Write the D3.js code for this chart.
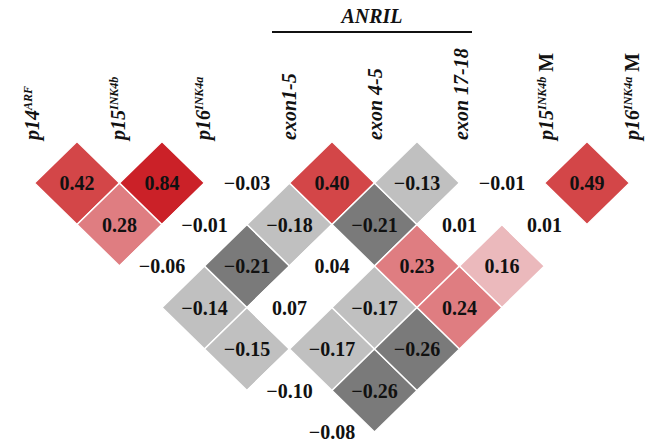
<!DOCTYPE html>
<html>

<head>
    <meta charset="utf-8">
    <title>ANRIL correlation</title>
    <script type="text/javascript" src="https://cdn.jsdelivr.net/npm/d3@7"></script>
    <style>
        body { margin: 0; background: #fff; }
        text { font-family: "Liberation Serif", "Times New Roman", serif; font-weight: bold; fill: #111; }
    </style>
</head>

<body>
    <script type="text/javascript">
    /* データ */
    var labelMain = ['p14', 'p15', 'p16', 'exon1-5', 'exon 4-5', 'exon 17-18', 'p15', 'p16'];
    var labelSup = ['ARF', 'INK4b', 'INK4a', '', '', '', 'INK4b', 'INK4a'];
    var labelTail = ['', '', '', '', '', '', ' M', ' M'];

    // 上三角の相関係数 (変数 i と i+1 .. 8)
    var corrP14 = [0.42, 0.28, -0.06, -0.14, -0.15, -0.10, -0.08];
    var corrP15 = [0.84, -0.01, -0.21, 0.07, -0.17, -0.26];
    var corrP16 = [-0.03, -0.18, 0.04, -0.17, -0.26];
    var corrExon15 = [0.40, -0.21, 0.23, 0.24];
    var corrExon45 = [-0.13, 0.01, 0.16];
    var corrExon1718 = [-0.01, 0.01];
    var corrP15M = [0.49];

    var corrRows = [corrP14, corrP15, corrP16, corrExon15, corrExon45, corrExon1718, corrP15M];

    var svgWidth = 645;
    var svgHeight = 444;

    var svg = d3.select('body').append('svg')
        .attr('width', svgWidth)
        .attr('height', svgHeight);

    /* セルのデータセット */
    var cells = [];
    corrRows.forEach(function(row, i) {
        row.forEach(function(v, k) {
            cells.push({ i: i, j: i + k + 1, v: v });
        });
    });

    /* スケール */
    var xVar = d3.scaleLinear().domain([0, 7]).range([34.5, 629.5]); // 変数の位置
    var yLag = d3.scaleLinear().domain([1, 7]).range([183, 432]); // 行の位置
    var xLabel = d3.scalePoint().domain(d3.range(8)).range([33, 633]);
    var halfW = (xVar(1) - xVar(0)) / 2;
    var halfH = (yLag(2) - yLag(1));

    var color = d3.scaleThreshold()
        .domain([-0.2, -0.1, 0.1, 0.2, 0.3, 0.5])
        .range(['#7a7a7a', '#c0c0c0', '#ffffff', '#ebb9bc', '#df7d81', '#d34648', '#cb2128']);

    function cx(d) { return (xVar(d.i) + xVar(d.j)) / 2; }
    function cy(d) { return yLag(d.j - d.i); }

    /* ダイヤモンド */
    svg.selectAll('path.cell')
        .data(cells)
        .enter()
        .append('path')
        .attr('class', 'cell')
        .attr('d', function(d) {
            var x = cx(d), y = cy(d);
            return 'M' + x + ',' + (y - halfH) + 'L' + (x + halfW) + ',' + y +
                'L' + x + ',' + (y + halfH) + 'L' + (x - halfW) + ',' + y + 'Z';
        })
        .attr('fill', function(d) { return color(d.v); })
        .attr('stroke', '#fff')
        .attr('stroke-width', 1.5);

    /* 数値 */
    svg.selectAll('text.val')
        .data(cells)
        .enter()
        .append('text')
        .attr('class', 'val')
        .attr('x', cx)
        .attr('y', cy)
        .attr('dy', '0.35em')
        .attr('text-anchor', 'middle')
        .attr('font-size', '20px')
        .text(function(d) { return d3.format('.2f')(d.v); });

    /* 変数ラベル */
    var labels = svg.selectAll('text.lab')
        .data(d3.range(8))
        .enter()
        .append('text')
        .attr('class', 'lab')
        .attr('transform', function(i) {
            return 'translate(' + xLabel(i) + ',140) rotate(-90)';
        })
        .attr('dy', '0.3em')
        .attr('font-size', '20px');

    labels.append('tspan')
        .attr('font-style', 'italic')
        .text(function(i) { return labelMain[i]; });

    labels.append('tspan')
        .attr('font-style', 'italic')
        .attr('font-size', '12px')
        .attr('baseline-shift', '60%')
        .text(function(i) { return labelSup[i]; });

    labels.append('tspan')
        .text(function(i) { return labelTail[i]; });

    /* ANRIL 見出し */
    svg.append('text')
        .attr('x', 372)
        .attr('y', 23)
        .attr('text-anchor', 'middle')
        .attr('font-style', 'italic')
        .attr('font-size', '20px')
        .text('ANRIL');

    svg.append('line')
        .attr('x1', 272)
        .attr('x2', 472)
        .attr('y1', 32)
        .attr('y2', 32)
        .attr('stroke', '#111')
        .attr('stroke-width', 2);
    </script>
</body>

</html>
